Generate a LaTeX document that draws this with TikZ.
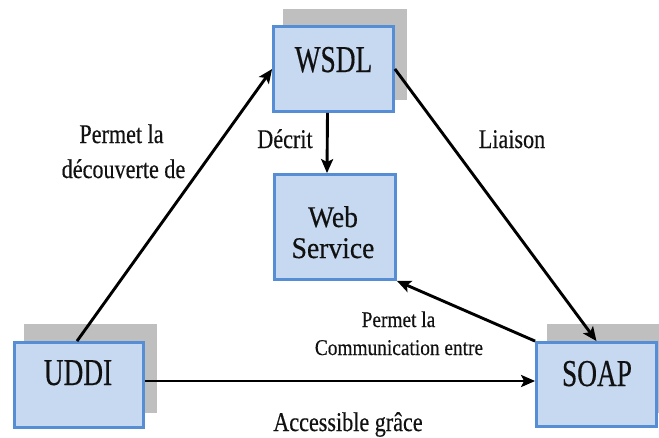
\documentclass[tikz,border=0pt]{standalone}
\usepackage{fontspec}
\setmainfont{Liberation Serif}
\newfontfamily\boxfont[FakeStretch=0.72,FakeBold=0.4]{Liberation Serif}
\newfontfamily\wsfont[FakeStretch=0.92,FakeBold=0.4]{Liberation Serif}
\newfontfamily\lblfont[FakeStretch=0.82,FakeBold=0.4]{Liberation Serif}
\newfontfamily\smlfont[FakeStretch=0.86,FakeBold=0.4]{Liberation Serif}
\usetikzlibrary{arrows.meta,calc}
\definecolor{boxfill}{HTML}{C6D9F1}
\definecolor{boxline}{HTML}{558ED5}
\definecolor{shadowgray}{HTML}{BFBFBF}
\definecolor{ink}{HTML}{111111}
\tikzset{
  box/.style={draw=boxline, fill=boxfill, line width=2.8pt, inner sep=0pt},
  shadowbox/.style={fill=shadowgray, draw=none},
  boxlabel/.style={anchor=base, inner sep=0pt, text=ink, font=\boxfont\fontsize{38}{40}\selectfont},
  wslabel/.style={anchor=base, inner sep=0pt, text=ink, font=\wsfont\fontsize{30}{32}\selectfont},
  edgelabel/.style={anchor=base, inner sep=0pt, text=ink, font=\lblfont\fontsize{27}{29}\selectfont},
  smalllabel/.style={anchor=base, inner sep=0pt, text=ink, font=\smlfont\fontsize{22.5}{24}\selectfont},
  arr/.style={line width=2.9pt, -{Stealth[length=14pt,width=12pt,inset=3pt]}}
}
\begin{document}
\begin{tikzpicture}[x=1pt,y=-1pt]
\useasboundingbox (0,0) rectangle (659,437);
\begin{scope}
\clip (0,0) rectangle (659,437);
% shadows
\fill[shadowbox] (283,9) rectangle (407,100);
\fill[shadowbox] (24,324) rectangle (157,413);
\fill[shadowbox] (547,324) rectangle (680,413);
% boxes
\node[box, minimum width=120pt, minimum height=85pt] (wsdl) at (333.5,69) {};
\node[box, minimum width=121pt, minimum height=105pt] (ws) at (335,227) {};
\node[box, minimum width=129pt, minimum height=85pt] (uddi) at (79,385) {};
\node[box, minimum width=120pt, minimum height=84pt] (soap) at (596.5,384.5) {};
\end{scope}
% box labels
\node[boxlabel] (twsdl) at (333.5,72) {WSDL};
\node[wslabel] (tweb) at (333,227) {Web};
\node[wslabel] (tservice) at (333,258) {Service};
\node[boxlabel] (tuddi) at (78,385) {UDDI};
\node[boxlabel] (tsoap) at (597,386) {SOAP};
% connectors
\draw[arr] ([xshift=-2pt]uddi.north) -- (wsdl.west);
\draw[arr] ([xshift=-6pt]wsdl.south) -- ([xshift=-8pt]ws.north);
\draw[arr] (wsdl.east) -- (soap.north);
\draw[arr] (soap.north west) -- (ws.south east);
\draw[arr] ([yshift=4pt]uddi.east) -- ([yshift=4pt]uddi.east -| soap.west);
% edge labels
\node[edgelabel] (l1a) at (121.5,143) {Permet la};
\node[edgelabel] (l1b) at (123.5,178) {découverte de};
\node[edgelabel] (l2) at (285,148) {Décrit};
\node[edgelabel] (l3) at (512,148) {Liaison};
\node[smalllabel] (l4a) at (398.5,327) {Permet la};
\node[smalllabel] (l4b) at (399,355) {Communication entre};
\node[edgelabel] (l5) at (348,431) {Accessible grâce};
\end{tikzpicture}
\end{document}
